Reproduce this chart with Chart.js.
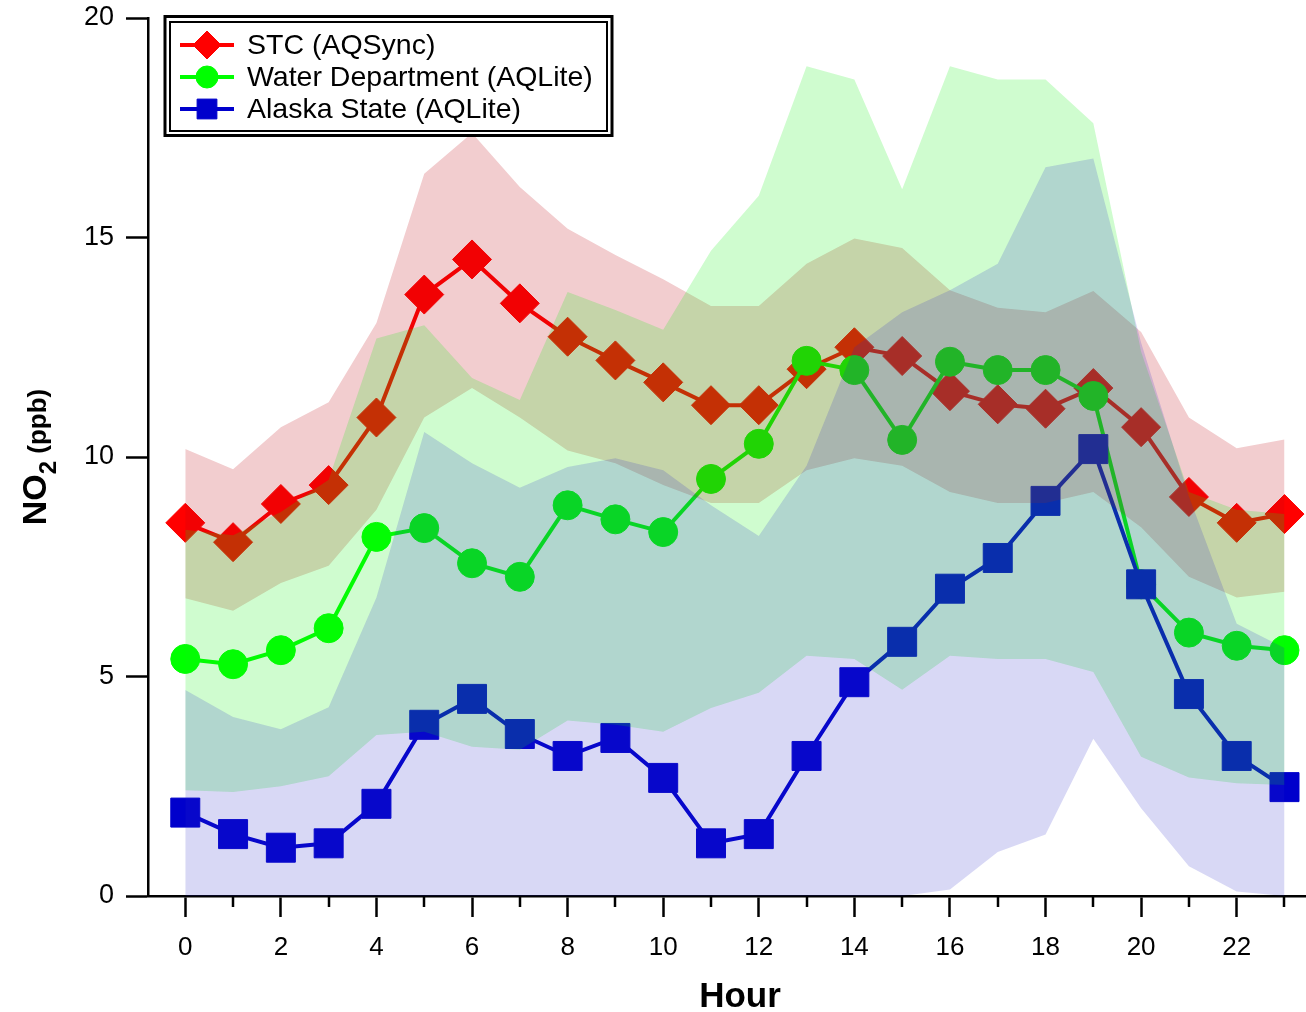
<!DOCTYPE html>
<html>
<head>
<meta charset="utf-8">
<title>NO2 by hour</title>
<script src="https://cdn.jsdelivr.net/npm/chart.js@4.4.1/dist/chart.umd.min.js"></script>
<style>
  html, body { margin: 0; padding: 0; background: #fff; }
  canvas { display: block; }
</style>
</head>
<body>
<canvas id="no2Chart" width="1306" height="1012"></canvas>
<script>
// hour of day
const hours = [0, 1, 2, 3, 4, 5, 6, 7, 8, 9, 10, 11, 12, 13, 14, 15, 16, 17, 18, 19, 20, 21, 22, 23];
const xTicks = [0, 2, 4, 6, 8, 10, 12, 14, 16, 18, 20, 22];
const yTicks = [0, 5, 10, 15, 20];
const seriesNames = ["STC (AQSync)", "Water Department (AQLite)", "Alaska State (AQLite)"];

// STC (AQSync)
const stcMean  = [8.5, 8.06, 8.93, 9.36, 10.9, 13.7, 14.5, 13.5, 12.74, 12.2, 11.7, 11.18, 11.18, 12.0, 12.5, 12.3, 11.5, 11.2, 11.1, 11.57, 10.68, 9.09, 8.5, 8.7];
const stcUpper = [10.18, 9.72, 10.68, 11.25, 13.05, 16.45, 17.38, 16.15, 15.2, 14.6, 14.05, 13.44, 13.44, 14.4, 14.98, 14.76, 13.8, 13.4, 13.3, 13.78, 12.85, 10.9, 10.2, 10.4];
const stcLower = [6.78, 6.5, 7.13, 7.52, 8.8, 10.9, 11.57, 10.9, 10.15, 9.86, 9.36, 8.95, 8.95, 9.7, 9.97, 9.8, 9.2, 8.95, 8.95, 9.2, 8.4, 7.27, 6.8, 6.93];

// Water Department (AQLite)
const waterMean  = [5.4, 5.28, 5.6, 6.1, 8.18, 8.38, 7.58, 7.27, 8.9, 8.58, 8.29, 9.5, 10.3, 12.19, 11.98, 10.39, 12.17, 11.98, 11.98, 11.39, 7.1, 6.0, 5.7, 5.6];
const waterUpper = [8.34, 8.22, 8.75, 9.48, 12.7, 13.0, 11.8, 11.3, 13.76, 13.35, 12.9, 14.7, 15.95, 18.9, 18.6, 16.1, 18.9, 18.6, 18.6, 17.6, 12.4, 9.2, 8.8, 8.7];
const waterLower = [2.41, 2.37, 2.5, 2.73, 3.67, 3.74, 3.4, 3.33, 4.0, 3.9, 3.74, 4.28, 4.63, 5.47, 5.4, 4.7, 5.47, 5.4, 5.4, 5.1, 3.17, 2.7, 2.57, 2.53];

// Alaska State (AQLite)
const alaskaMean  = [1.9, 1.41, 1.1, 1.2, 2.1, 3.9, 4.49, 3.69, 3.19, 3.6, 2.69, 1.2, 1.41, 3.19, 4.87, 5.79, 7.0, 7.7, 9.0, 10.18, 7.1, 4.6, 3.19, 2.48];
const alaskaUpper = [4.69, 4.08, 3.8, 4.3, 6.8, 10.57, 9.86, 9.3, 9.77, 9.97, 9.7, 8.9, 8.2, 9.8, 12.5, 13.3, 13.8, 14.4, 16.6, 16.8, 12.6, 9.1, 6.2, 5.65];
const alaskaLower = [0, 0, 0, 0, 0, 0, 0, 0, 0, 0, 0, 0, 0, 0, 0, 0, 0.15, 1.0, 1.4, 3.58, 2.0, 0.68, 0.1, 0];

const FONT = 'Arial, "Liberation Sans", sans-serif';
const lineColors = ["#ff0000", "#00ff00", "#0000cc"];
const bandColors = ["rgba(190,5,15,0.2)", "rgba(15,240,15,0.2)", "rgba(38,38,199,0.18)"];
const markers = [
  { style: "rectRot", radius: 19.5, legendRadius: 14 },
  { style: "circle", radius: 14.5, legendRadius: 11 },
  { style: "rect", radius: 20.5, legendRadius: 14 }
];

function points(values) {
  return hours.map((h, i) => ({ x: h, y: values[i] }));
}

function lineSet(k, values, order) {
  return {
    label: seriesNames[k],
    data: points(values),
    borderColor: lineColors[k],
    backgroundColor: lineColors[k],
    borderWidth: 4,
    pointStyle: markers[k].style,
    pointRadius: markers[k].radius,
    pointBorderWidth: 1,
    pointBorderColor: lineColors[k],
    pointBackgroundColor: lineColors[k],
    fill: false,
    tension: 0,
    clip: false,
    order: order
  };
}

function bandSet(k, values, fill, order) {
  return {
    data: points(values),
    borderColor: "rgba(0,0,0,0)",
    borderWidth: 0,
    pointRadius: 0,
    backgroundColor: bandColors[k],
    fill: fill,
    tension: 0,
    order: order
  };
}

function noPadding(axis) {
  axis.paddingTop = 0;
  axis.paddingBottom = 0;
  axis.paddingLeft = 0;
  axis.paddingRight = 0;
}

// axis titles, minor ticks and the boxed legend
const overlay = {
  id: "overlay",
  afterDraw(chart) {
    const ctx = chart.ctx;
    const xs = chart.scales.x;
    const area = chart.chartArea;
    ctx.save();

    ctx.strokeStyle = "#000";
    ctx.lineWidth = 2.5;
    hours.filter(h => h % 2 === 1).forEach(h => {
      const px = Math.round(xs.getPixelForValue(h));
      ctx.beginPath();
      ctx.moveTo(px, area.bottom);
      ctx.lineTo(px, area.bottom + 11);
      ctx.stroke();
    });

    ctx.fillStyle = "#000";
    ctx.textBaseline = "alphabetic";
    ctx.textAlign = "center";
    ctx.font = "bold 35px " + FONT;
    ctx.fillText("Hour", 740, 1007);

    // y title: NO2 (ppb)
    ctx.save();
    ctx.translate(46, (area.top + area.bottom) / 2);
    ctx.rotate(-Math.PI / 2);
    ctx.textAlign = "left";
    const partA = "NO", partB = "2", partC = " (ppb)";
    ctx.font = "bold 34px " + FONT;
    const wA = ctx.measureText(partA).width;
    ctx.font = "bold 24px " + FONT;
    const wB = ctx.measureText(partB).width;
    ctx.font = "bold 26px " + FONT;
    const wC = ctx.measureText(partC).width;
    let u = -(wA + wB + wC) / 2;
    ctx.font = "bold 34px " + FONT;
    ctx.fillText(partA, u, 0);
    u += wA;
    ctx.font = "bold 24px " + FONT;
    ctx.fillText(partB, u, 10);
    u += wB;
    ctx.font = "bold 26px " + FONT;
    ctx.fillText(partC, u, 0);
    ctx.restore();

    // legend box
    ctx.fillStyle = "#fff";
    ctx.fillRect(164, 15, 450, 122);
    ctx.strokeStyle = "#000";
    ctx.lineWidth = 3;
    ctx.strokeRect(165, 16.5, 447, 119);
    ctx.lineWidth = 2;
    ctx.strokeRect(170, 22, 437, 109);

    const rowY = [45, 77, 109];
    seriesNames.forEach((name, k) => {
      const y = rowY[k];
      ctx.strokeStyle = lineColors[k];
      ctx.fillStyle = lineColors[k];
      ctx.lineWidth = 4;
      ctx.beginPath();
      ctx.moveTo(180, y);
      ctx.lineTo(234, y);
      ctx.stroke();
      ctx.lineWidth = 1;
      Chart.helpers.drawPoint(ctx, {
        pointStyle: markers[k].style,
        radius: markers[k].legendRadius,
        rotation: 0,
        borderWidth: 1
      }, 207, y);
      ctx.fillStyle = "#000";
      ctx.textAlign = "left";
      ctx.textBaseline = "middle";
      ctx.font = "28.5px " + FONT;
      ctx.fillText(name, 247, y + 1);
    });

    ctx.restore();
  }
};

const chart = new Chart(document.getElementById("no2Chart"), {
  type: "line",
  data: {
    datasets: [
      lineSet(0, stcMean, 9),
      lineSet(1, waterMean, 8),
      lineSet(2, alaskaMean, 7),
      bandSet(0, stcUpper, "+1", 6),
      bandSet(0, stcLower, false, 5),
      bandSet(1, waterUpper, "+1", 4),
      bandSet(1, waterLower, false, 3),
      bandSet(2, alaskaUpper, "+1", 2),
      bandSet(2, alaskaLower, false, 1)
    ]
  },
  options: {
    responsive: false,
    animation: false,
    events: [],
    layout: { autoPadding: false, padding: { top: 18, right: 0, bottom: 0, left: 0 } },
    plugins: {
      legend: { display: false },
      tooltip: { enabled: false },
      filler: { drawTime: "beforeDatasetDraw" }
    },
    scales: {
      x: {
        type: "linear",
        min: -0.78,
        max: 23.45,
        afterBuildTicks: axis => { axis.ticks = xTicks.map(v => ({ value: v })); },
        afterFit: axis => { axis.height = 116; noPadding(axis); },
        border: { display: true, color: "#000", width: 2.5 },
        grid: { drawOnChartArea: false, drawTicks: true, tickLength: 21, tickColor: "#000", tickWidth: 2.5 },
        ticks: { color: "#000", padding: 15, maxRotation: 0, font: { family: FONT, size: 26 } }
      },
      y: {
        type: "linear",
        min: 0,
        max: 20,
        afterBuildTicks: axis => { axis.ticks = yTicks.map(v => ({ value: v })); },
        afterFit: axis => { axis.width = 148; noPadding(axis); },
        border: { display: true, color: "#000", width: 2.5 },
        grid: { drawOnChartArea: false, drawTicks: true, tickLength: 22, tickColor: "#000", tickWidth: 2.5 },
        ticks: { color: "#000", padding: 12, font: { family: FONT, size: 27 } }
      }
    }
  },
  plugins: [overlay]
});
</script>
</body>
</html>
